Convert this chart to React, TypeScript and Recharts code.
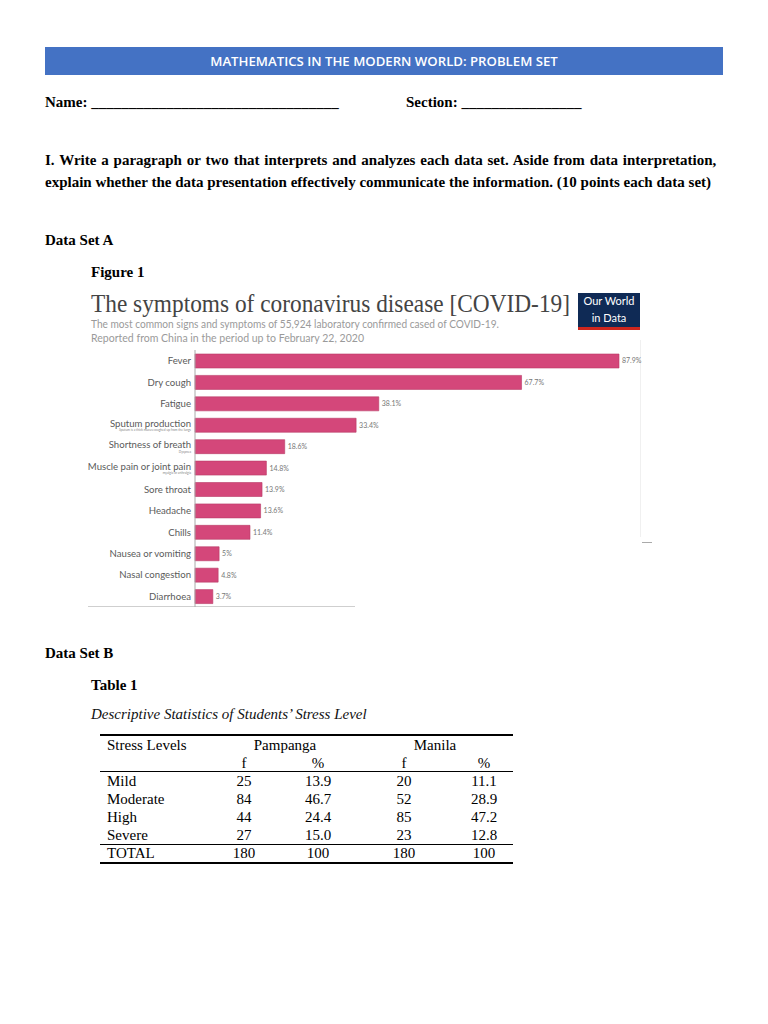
import React from "react";
import { BarChart, Bar, XAxis, YAxis, LabelList } from "recharts";

const categories = [
  "Fever",
  "Dry cough",
  "Fatigue",
  "Sputum production",
  "Shortness of breath",
  "Muscle pain or joint pain",
  "Sore throat",
  "Headache",
  "Chills",
  "Nausea or vomiting",
  "Nasal congestion",
  "Diarrhoea",
];
const percentages = [87.9, 67.7, 38.1, 33.4, 18.6, 14.8, 13.9, 13.6, 11.4, 5, 4.8, 3.7];
const subLabels = [
  "",
  "",
  "",
  "Sputum is a thick mucus coughed up from the lungs",
  "Dyspnea",
  "myalgia or arthralgia",
  "",
  "",
  "",
  "",
  "",
  "",
];

const stressLevels = ["Mild", "Moderate", "High", "Severe"];
const pampangaF = [25, 84, 44, 27];
const pampangaPct = ["13.9", "46.7", "24.4", "15.0"];
const manilaF = [20, 52, 85, 23];
const manilaPct = ["11.1", "28.9", "47.2", "12.8"];
const totals = ["180", "100", "180", "100"];

const data = categories.map((name, i) => ({ name, value: percentages[i], sub: subLabels[i] }));

const CHART_FONT = "Lato, 'Open Sans', sans-serif";
const DOC_FONT = "'Liberation Serif', 'Times New Roman', serif";

const CatTick = (props: any) => {
  const { x, y, payload } = props;
  const idx = categories.indexOf(payload.value);
  const sub = subLabels[idx];
  const tx = x + 4;
  return (
    <g>
      <text
        x={tx}
        y={y + (sub ? -1.5 : 0)}
        textAnchor="end"
        dominantBaseline="central"
        fontFamily={CHART_FONT}
        fontSize={9.6}
        fill="#5a5a5a"
      >
        {payload.value}
      </text>
      {sub ? (
        <text x={tx} y={y + 5.5} textAnchor="end" dominantBaseline="central" fontFamily={CHART_FONT} fontSize={3.2} fill="#888">
          {sub}
        </text>
      ) : null}
    </g>
  );
};

const abs = (left: number, top: number, extra: React.CSSProperties = {}): React.CSSProperties => ({
  position: "absolute",
  left,
  top,
  whiteSpace: "nowrap",
  ...extra,
});

const docText = (bold = true): React.CSSProperties => ({
  fontFamily: DOC_FONT,
  fontSize: 15,
  fontWeight: bold ? 700 : 400,
  lineHeight: "18px",
  color: "#000",
});

export default function App() {
  const rowYs = [781, 799, 817, 835];
  const colX = [244, 318, 404, 484];
  return (
    <div style={{ position: "absolute", left: 0, top: 0, width: 768, height: 1024, background: "#fff", overflow: "hidden" }}>
      {/* Header bar */}
      <div
        style={abs(45, 47, {
          width: 678,
          height: 28,
          background: "#4472c4",
          color: "#fff",
          fontFamily: "'Open Sans', 'Liberation Sans', sans-serif",
          fontWeight: 600,
          fontSize: 13.2,
          lineHeight: "28px",
          textAlign: "center",
        })}
      >
        MATHEMATICS IN THE MODERN WORLD: PROBLEM SET
      </div>

      <div style={abs(45, 93, docText())}>Name: _________________________________</div>
      <div style={abs(406, 93, docText())}>Section: ________________</div>

      <div style={abs(45, 151, { ...docText(), wordSpacing: 1.1 })}>
        I. Write a paragraph or two that interprets and analyzes each data set. Aside from data interpretation,
      </div>
      <div style={abs(45, 173, docText())}>
        explain whether the data presentation effectively communicate the information. (10 points each data set)
      </div>

      <div style={abs(45, 231, docText())}>Data Set A</div>
      <div style={abs(91, 263, docText())}>Figure 1</div>

      {/* Chart header */}
      <svg style={abs(0, 0)} width={768} height={1024} pointerEvents="none">
        <g transform="translate(91,312) scale(1,1.08)">
          <text x={0} y={0} fontFamily="'Liberation Serif', serif" fontSize={24} fill="#444" textLength={479} lengthAdjust="spacingAndGlyphs">
            The symptoms of coronavirus disease [COVID-19]
          </text>
        </g>
        <text x={91} y={328} fontFamily={CHART_FONT} fontSize={10.5} fill="#9a9a9a" textLength={408} lengthAdjust="spacingAndGlyphs">
          The most common signs and symptoms of 55,924 laboratory confirmed cased of COVID-19.
        </text>
        <text x={91} y={342} fontFamily={CHART_FONT} fontSize={10.5} fill="#9a9a9a" textLength={273} lengthAdjust="spacingAndGlyphs">
          Reported from China in the period up to February 22, 2020
        </text>
        <rect x={578} y={293} width={62} height={37} fill="#0f2a55" />
        <rect x={578} y={327} width={62} height={3} fill="#ce261e" />
        <text x={609} y={305} textAnchor="middle" fontFamily={CHART_FONT} fontSize={11} fill="#fff">
          Our World
        </text>
        <text x={609} y={322} textAnchor="middle" fontFamily={CHART_FONT} fontSize={11} fill="#fff">
          in Data
        </text>
        <line x1={640.5} y1={340} x2={640.5} y2={537} stroke="#f0f0f0" strokeWidth={1} />
        <line x1={642} y1={542.5} x2={652} y2={542.5} stroke="#aaa" strokeWidth={1} />
        <line x1={88} y1={606.5} x2={355} y2={606.5} stroke="#cfcfcf" strokeWidth={1} />
      </svg>

      <div style={abs(88, 350)}>
        <BarChart
          width={560}
          height={257}
          data={data}
          layout="vertical"
          margin={{ top: 0, right: 29, bottom: 0, left: 0 }}
          barCategoryGap={0}
        >
          <XAxis type="number" hide domain={[0, 87.9]} />
          <YAxis
            type="category"
            dataKey="name"
            width={107}
            axisLine={{ stroke: "#aaa" }}
            tickLine={false}
            interval={0}
            tick={<CatTick />}
          />
          <Bar dataKey="value" fill="#d4477a" stroke="#b83a67" strokeWidth={0.6} barSize={14} isAnimationActive={false}>
            <LabelList
              dataKey="value"
              position="right"
              offset={3}
              formatter={(v: any) => `${v}%`}
              style={{ fontFamily: CHART_FONT, fontSize: 7, fill: "#777" }}
            />
          </Bar>
        </BarChart>
      </div>

      <div style={abs(45, 644, docText())}>Data Set B</div>
      <div style={abs(91, 676, docText())}>Table 1</div>
      <div style={abs(91, 705, { fontFamily: DOC_FONT, fontStyle: "italic", fontSize: 15, lineHeight: "18px", color: "#111" })}>
        Descriptive Statistics of Students’ Stress Level
      </div>

      {/* Table */}
      <div style={abs(100, 734, { width: 413, height: 2, background: "#000" })} />
      <div style={abs(100, 770.5, { width: 413, height: 1, background: "#000" })} />
      <div style={abs(100, 843.5, { width: 413, height: 1, background: "#000" })} />
      <div style={abs(100, 862, { width: 413, height: 1.5, background: "#000" })} />

      <div style={abs(107, 736, docText(false))}>Stress Levels</div>
      <div style={abs(235, 736, { ...docText(false), width: 100, textAlign: "center" })}>Pampanga</div>
      <div style={abs(385, 736, { ...docText(false), width: 100, textAlign: "center" })}>Manila</div>
      {["f", "%", "f", "%"].map((t, i) => (
        <div key={"h" + i} style={abs(colX[i] - 30, 754, { ...docText(false), width: 60, textAlign: "center" })}>
          {t}
        </div>
      ))}
      {stressLevels.map((lvl, r) => (
        <React.Fragment key={lvl}>
          <div style={abs(107, rowYs[r] - 9, docText(false))}>{lvl}</div>
          {[pampangaF[r], pampangaPct[r], manilaF[r], manilaPct[r]].map((v, c) => (
            <div key={c} style={abs(colX[c] - 30, rowYs[r] - 9, { ...docText(false), width: 60, textAlign: "center" })}>
              {v}
            </div>
          ))}
        </React.Fragment>
      ))}
      <div style={abs(107, 844, docText(false))}>TOTAL</div>
      {totals.map((v, c) => (
        <div key={"t" + c} style={abs(colX[c] - 30, 844, { ...docText(false), width: 60, textAlign: "center" })}>
          {v}
        </div>
      ))}
    </div>
  );
}
